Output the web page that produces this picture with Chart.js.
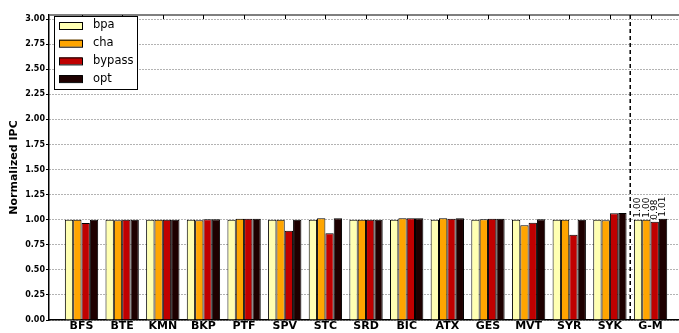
<!DOCTYPE html>
<html>
<head>
<meta charset="utf-8">
<script src="https://cdn.jsdelivr.net/npm/chart.js@4.4.1/dist/chart.umd.min.js"></script>
<style>
html,body{margin:0;padding:0;background:#fff;}
#wrap{width:679px;height:333px;position:relative;}
</style>
</head>
<body>
<div id="wrap"><canvas id="c" width="679" height="333"></canvas></div>
<script>
const categories = ["BFS","BTE","KMN","BKP","PTF","SPV","STC","SRD","BIC","ATX","GES","MVT","SYR","SYK","G-M"];
const seriesNames = ["bpa","cha","bypass","opt"];
const bpa    = [1.00,1.00,1.00,1.00,1.00,1.00,1.00,1.00,1.00,1.00,1.00,1.00,1.00,1.00,1.00];
const cha    = [1.00,0.995,1.00,0.995,1.01,1.00,1.015,1.00,1.015,1.015,1.005,0.945,1.00,0.995,1.00];
const bypass = [0.967,1.00,1.00,1.005,1.01,0.89,0.865,1.00,1.015,1.01,1.01,0.97,0.85,1.065,0.98];
const opt    = [1.00,1.00,1.00,1.005,1.01,1.00,1.015,1.00,1.015,1.015,1.01,1.005,1.00,1.067,1.01];
const gmLabels = ["1.00","1.00","0.98","1.01"];
const yTicks = [0,0.25,0.5,0.75,1.0,1.25,1.5,1.75,2.0,2.25,2.5,2.75,3.0];
const colors = ["#ffffb2","#ffa500","#c00000","#1e0000"];

const allSeries = [bpa,cha,bypass,opt];
const datasets = allSeries.map((arr,si)=>({
  label: seriesNames[si],
  data: arr.map((v,i)=>({x:i,y:v})),
  backgroundColor: colors[si],
  borderColor: "#000",
  borderWidth: 1,
  borderSkipped: "bottom",
  categoryPercentage: 0.82,
  barPercentage: 1.0,
  grouped: true
}));

const deco = {
  id: "deco",
  afterDatasetsDraw(chart){
    const ctx = chart.ctx, a = chart.chartArea, xs = chart.scales.x;
    ctx.save();
    // top border
    ctx.strokeStyle = "#555"; ctx.lineWidth = 1.5;
    ctx.beginPath(); ctx.moveTo(a.left, a.top); ctx.lineTo(a.right, a.top); ctx.stroke();
    // top ticks (inward)
    ctx.strokeStyle = "#000"; ctx.lineWidth = 1;
    categories.forEach((c,i)=>{
      const px = Math.round(xs.getPixelForValue(i))+0.5;
      ctx.beginPath(); ctx.moveTo(px,a.top); ctx.lineTo(px,a.top+4); ctx.stroke();
    });
    // dashed separator
    const sx = xs.getPixelForValue(categories.length-1.5);
    ctx.setLineDash([4,3]); ctx.lineWidth = 1.5; ctx.strokeStyle = "#000";
    ctx.beginPath(); ctx.moveTo(sx,a.top); ctx.lineTo(sx,a.bottom); ctx.stroke();
    ctx.setLineDash([]);
    // G-M value labels
    ctx.fillStyle = "#000";
    ctx.font = "9px 'DejaVu Sans'";
    ctx.textAlign = "left"; ctx.textBaseline = "middle";
    const last = categories.length-1;
    chart.data.datasets.forEach((ds,si)=>{
      const el = chart.getDatasetMeta(si).data[last];
      ctx.save();
      ctx.translate(el.x, el.y-2);
      ctx.rotate(-Math.PI/2);
      ctx.fillText(gmLabels[si],0,0);
      ctx.restore();
    });
    // legend
    const lx=54, ly=16, lw=83, lh=73;
    ctx.fillStyle="#fff"; ctx.fillRect(lx,ly,lw,lh);
    ctx.strokeStyle="#000"; ctx.lineWidth=1;
    ctx.strokeRect(lx+0.5,ly+0.5,lw,lh);
    ctx.font = "11.5px 'DejaVu Sans'";
    ctx.textBaseline = "middle";
    seriesNames.forEach((n,i)=>{
      const y = 22 + i*17.7;
      ctx.fillStyle = colors[i];
      ctx.fillRect(59,y,23,7);
      ctx.strokeStyle="#000"; ctx.strokeRect(59.5,y+0.5,23,7);
      ctx.fillStyle="#000";
      ctx.fillText(n,93,y+3.5);
    });
    ctx.restore();
  }
};

new Chart(document.getElementById("c"),{
  type:"bar",
  data:{datasets},
  options:{
    responsive:false,
    animation:false,
    devicePixelRatio:1,
    layout:{padding:{left:0,right:0,top:15,bottom:0}},
    plugins:{legend:{display:false},tooltip:{enabled:false}},
    scales:{
      x:{
        type:"linear",
        offset:false,
        min:-0.8, max:14.7,
        afterBuildTicks(s){ s.ticks = categories.map((c,i)=>({value:i})); },
        afterFit(s){ s.height = 13; },
        ticks:{
          autoSkip:false, maxRotation:0, padding:0,
          callback:(v)=>categories[v],
          color:"#000",
          font:{family:"'DejaVu Sans'",size:11,weight:"bold"}
        },
        grid:{drawOnChartArea:false,drawTicks:false},
        border:{color:"#000",width:1.5}
      },
      y:{
        min:0, max:3.04,
        afterBuildTicks(s){ s.ticks = yTicks.map(v=>({value:v})); },
        afterFit(s){ s.width = 49; },
        ticks:{
          padding:1, color:"#000",
          callback:(v)=>Number(v).toFixed(2),
          font:{family:"'DejaVu Sans'",size:8,weight:"bold"}
        },
        grid:{color:"rgba(0,0,0,0.6)",tickLength:3,tickColor:"#000",tickBorderDash:[],lineWidth:1},
        border:{color:"#000",width:1.5,dash:[1,2]},
        title:{display:true,text:"Normalized IPC",color:"#000",padding:{top:8,bottom:0},
          font:{family:"'DejaVu Sans'",size:11,weight:"bold"}}
      }
    }
  },
  plugins:[deco]
});
</script>
</body>
</html>
